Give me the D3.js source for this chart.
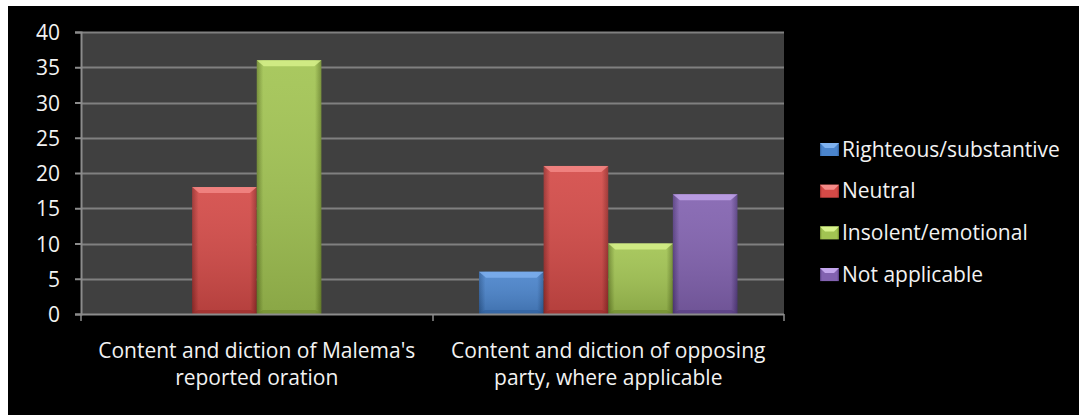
<!DOCTYPE html>
<html>
<head>
<meta charset="utf-8">
<script src="https://cdn.jsdelivr.net/npm/d3@7"></script>
<style>
  html, body { margin: 0; padding: 0; background: #ffffff; }
  svg text { font-family: "Open Sans", "DejaVu Sans", sans-serif; fill: #f2f2f2; }
</style>
</head>
<body>
<div id="chart"></div>
<script>
const categories = [
    ["Content and diction of Malema's", "reported oration"],
    ["Content and diction of opposing", "party, where applicable"]
];
const series = ["Righteous/substantive", "Neutral", "Insolent/emotional", "Not applicable"];
const righteous = [0, 6];
const neutral = [18, 21];
const insolent = [36, 10];
const notApplicable = [0, 17];
const yTicks = [0, 5, 10, 15, 20, 25, 30, 35, 40];

const colors = {
    "Righteous/substantive": ["#2f5f9c", "#4a84cc", "#7fb2f0"],
    "Neutral": ["#9a2d2b", "#d44a47", "#f58b88"],
    "Insolent/emotional": ["#6f8a2d", "#a2c452", "#d8f38c"],
    "Not applicable": ["#553c80", "#8262b0", "#c3a6ec"]
};

const drawChart = function () {
    const width = 1079;
    const height = 415;
    const margin = {left: 81, right: 295, top: 32, bottom: 101};

    const values = [righteous, neutral, insolent, notApplicable];
    const data = categories.map((c, i) => ({
        cat: i,
        bars: series.map((s, j) => ({key: s, value: values[j][i]}))
    }));

    const svg = d3.select('#chart').append('svg')
        .attr('width', width)
        .attr('height', height);

    // black frame
    svg.append('rect')
        .attr('x', 8).attr('y', 6)
        .attr('width', width - 8).attr('height', height - 6)
        .attr('fill', '#000000');

    const x0 = d3.scaleBand()
        .domain(d3.range(categories.length))
        .range([margin.left, width - margin.right])
        .paddingInner(0).paddingOuter(0);

    const x1 = d3.scaleBand()
        .domain(series)
        .range([0, x0.bandwidth()])
        .paddingInner(0)
        .paddingOuter(0.72);

    const y = d3.scaleLinear()
        .domain([0, 40])
        .range([height - margin.bottom, margin.top]);

    // gradients
    const defs = svg.append('defs');
    series.forEach((s, i) => {
        const c = colors[s];
        const g = defs.append('linearGradient')
            .attr('id', 'grad' + i)
            .attr('x1', '0').attr('x2', '1').attr('y1', '0').attr('y2', '0');
        g.append('stop').attr('offset', '0%').attr('stop-color', c[0]);
        g.append('stop').attr('offset', '10%').attr('stop-color', c[1]);
        g.append('stop').attr('offset', '90%').attr('stop-color', c[1]);
        g.append('stop').attr('offset', '100%').attr('stop-color', c[0]);
        const v = defs.append('linearGradient')
            .attr('id', 'shade' + i)
            .attr('x1', '0').attr('x2', '0').attr('y1', '0').attr('y2', '1');
        v.append('stop').attr('offset', '0%').attr('stop-color', '#ffffff').attr('stop-opacity', 0.08);
        v.append('stop').attr('offset', '100%').attr('stop-color', '#000000').attr('stop-opacity', 0.15);
    });

    // plot background
    svg.append('rect')
        .attr('x', margin.left).attr('y', margin.top)
        .attr('width', width - margin.right - margin.left)
        .attr('height', y(0) - margin.top)
        .attr('fill', '#404040');

    // gridlines
    svg.append('g')
        .selectAll('line')
        .data(yTicks.filter(d => d > 0))
        .join('line')
        .attr('x1', margin.left).attr('x2', width - margin.right)
        .attr('y1', d => Math.round(y(d)) + 0.5).attr('y2', d => Math.round(y(d)) + 0.5)
        .attr('stroke', '#808080').attr('stroke-width', 2);

    // bars
    const groups = svg.append('g')
        .selectAll('g')
        .data(data)
        .join('g')
        .attr('transform', d => `translate(${x0(d.cat)},0)`);

    const bar = groups.selectAll('g')
        .data(d => d.bars.filter(b => b.value > 0))
        .join('g')
        .attr('transform', d => `translate(${x1(d.key)},${y(d.value)})`);

    bar.append('rect')
        .attr('width', x1.bandwidth())
        .attr('height', d => y(0) - y(d.value))
        .attr('fill', d => `url(#grad${series.indexOf(d.key)})`);
    bar.append('rect')
        .attr('width', x1.bandwidth())
        .attr('height', d => y(0) - y(d.value))
        .attr('fill', d => `url(#shade${series.indexOf(d.key)})`);
    // top bevel
    bar.append('path')
        .attr('d', () => {
            const w = x1.bandwidth();
            return `M0,0 L${w},0 L${w - 7},6 L7,6 Z`;
        })
        .attr('fill', d => colors[d.key][2])
        .attr('opacity', 0.8);
    // bottom bevel
    bar.append('path')
        .attr('d', d => {
            const w = x1.bandwidth();
            const h = y(0) - y(d.value);
            return `M0,${h} L${w},${h} L${w - 6},${h - 4} L6,${h - 4} Z`;
        })
        .attr('fill', d => colors[d.key][0])
        .attr('opacity', 0.6);

    // y axis
    const yAxis = svg.append('g')
        .attr('transform', `translate(${margin.left},0)`)
        .call(d3.axisLeft(y).tickValues(yTicks).tickSize(6).tickPadding(15));
    yAxis.select('.domain').attr('stroke', '#8c8c8c').attr('stroke-width', 2);
    yAxis.selectAll('.tick line').attr('stroke', '#8c8c8c').attr('stroke-width', 2);
    yAxis.selectAll('.tick text')
        .attr('fill', '#f2f2f2')
        .style('font-size', '21px')
        .attr('dy', '0.36em');

    // x axis
    const xAxisY = y(0);
    const xg = svg.append('g');
    xg.append('line')
        .attr('x1', margin.left).attr('x2', width - margin.right)
        .attr('y1', xAxisY + 0.5).attr('y2', xAxisY + 0.5)
        .attr('stroke', '#8c8c8c').attr('stroke-width', 2);
    const bounds = d3.range(categories.length + 1).map(i =>
        i < categories.length ? x0(i) : x0(i - 1) + x0.bandwidth());
    xg.selectAll('line.tk')
        .data(bounds)
        .join('line')
        .attr('class', 'tk')
        .attr('x1', d => Math.round(d)).attr('x2', d => Math.round(d))
        .attr('y1', xAxisY).attr('y2', xAxisY + 7)
        .attr('stroke', '#8c8c8c').attr('stroke-width', 1.5);

    xg.selectAll('text')
        .data(categories)
        .join('text')
        .attr('x', (d, i) => x0(i) + x0.bandwidth() / 2)
        .attr('y', 358)
        .attr('text-anchor', 'middle')
        .style('font-size', '21px')
        .selectAll('tspan')
        .data(d => d)
        .join('tspan')
        .attr('x', function () { return d3.select(this.parentNode).attr('x'); })
        .attr('dy', (d, i) => i === 0 ? 0 : 27)
        .text(d => d);

    // legend
    const legend = svg.append('g')
        .selectAll('g')
        .data(series)
        .join('g')
        .attr('transform', (d, i) => `translate(820,${149 + i * 41.7})`);
    legend.append('rect')
        .attr('x', 0).attr('y', -6)
        .attr('width', 19).attr('height', 13)
        .attr('fill', (d, i) => `url(#grad${i})`);
    legend.append('path')
        .attr('d', 'M0,-6 L19,-6 L14,-1 L5,-1 Z')
        .attr('fill', d => colors[d][2]);
    legend.append('text')
        .attr('x', 22).attr('y', 0)
        .attr('dy', '0.36em')
        .style('font-size', '21px')
        .text(d => d);
};

drawChart();
</script>
</body>
</html>
